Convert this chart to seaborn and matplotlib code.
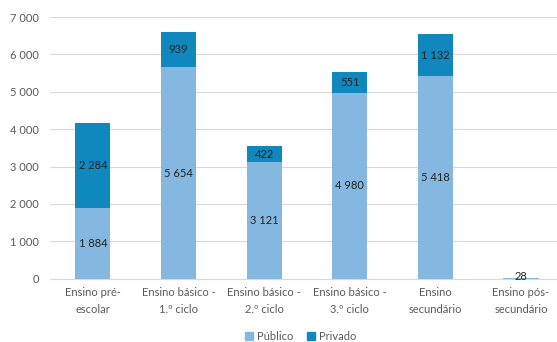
import numpy as np
import pandas as pd
import seaborn as sns
import matplotlib.pyplot as plt
from matplotlib.patches import Patch

categorias = ['Ensino pré-\nescolar', 'Ensino básico -\n1.º ciclo', 'Ensino básico -\n2.º ciclo',
              'Ensino básico -\n3.º ciclo', 'Ensino\nsecundário', 'Ensino pós-\nsecundário']
publico = [1884, 5654, 3121, 4980, 5418, 28]
privado = [2284, 939, 422, 551, 1132, 0]

cor_pub = '#85B8E0'
cor_priv = '#1088BE'

def fmt(v):
    return f'{v:,}'.replace(',', ' ')

base = pd.DataFrame({'cat': categorias, 'publico': publico, 'privado': privado})
base['total'] = base.publico + base.privado

sns.set_style('white')
plt.rcParams['font.family'] = ['Lato', 'DejaVu Sans']

fig, ax = plt.subplots(figsize=(5.57, 3.42), dpi=100)
fig.subplots_adjust(left=0.09, right=1.0, top=0.95, bottom=0.185)

sns.barplot(x='cat', y='total', data=base, color=cor_priv, width=0.41, saturation=1, ax=ax,
            zorder=2, linewidth=0)
sns.barplot(x='cat', y='publico', data=base, color=cor_pub, width=0.41, saturation=1, ax=ax,
            zorder=3, linewidth=0)

# rótulos
for i, (p, q) in enumerate(zip(publico, privado)):
    if p > 0:
        y = p / 2 if p > 200 else 60
        ax.text(i, y, fmt(p), ha='center', va='center', fontsize=8, color='#222222', zorder=4)
    if q > 0:
        ax.text(i, p + q / 2, fmt(q), ha='center', va='center', fontsize=8, color='#222222', zorder=4)

ax.set_xlim(-0.5, 5.42)
ax.set_ylim(0, 7000)
ax.set_yticks(range(0, 7001, 1000))
ax.set_yticklabels([fmt(v) for v in range(0, 7001, 1000)], fontsize=8, color='#595959')
ax.set_xticks(range(len(categorias)))
ax.set_xticklabels(categorias, fontsize=8, color='#595959', linespacing=1.7)
ax.tick_params(axis='x', length=0, pad=6)
ax.tick_params(axis='y', length=0, pad=8)
ax.yaxis.grid(True, color='#D9D9D9', linewidth=0.8, zorder=0)
ax.set_axisbelow(True)
ax.set_xlabel('')
ax.set_ylabel('')
for s in ['top', 'right', 'left']:
    ax.spines[s].set_visible(False)
ax.spines['bottom'].set_color('#D9D9D9')

handles = [Patch(color=cor_pub, label='Público'), Patch(color=cor_priv, label='Privado')]
fig.legend(handles=handles, loc='lower center', ncol=2, frameon=False, fontsize=8,
           bbox_to_anchor=(0.54, -0.03), handlelength=0.7, handleheight=0.7,
           handletextpad=0.4, columnspacing=1.2, labelcolor='#595959')

plt.savefig('out.png', dpi=100)
